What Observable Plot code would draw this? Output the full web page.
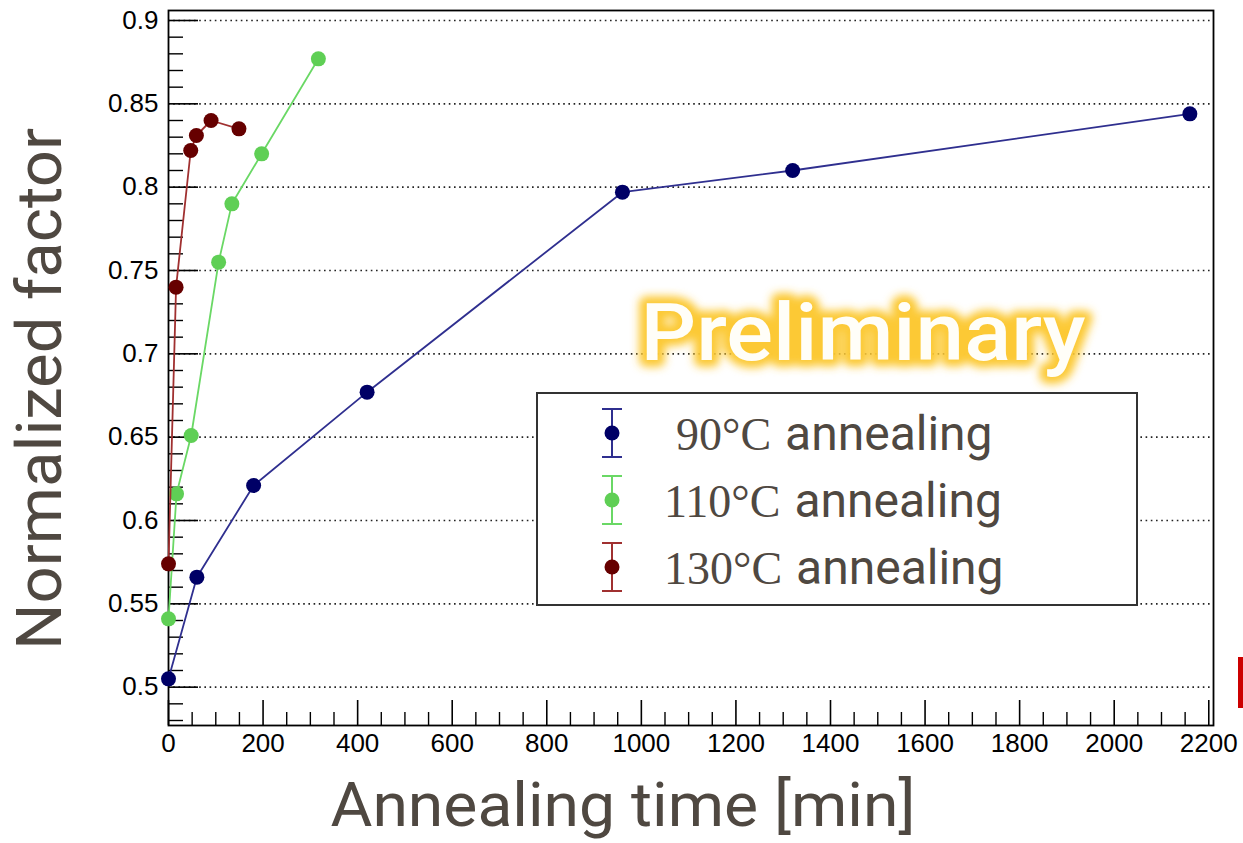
<!DOCTYPE html>
<html>
<head>
<meta charset="utf-8">
<script src="https://cdn.jsdelivr.net/npm/d3@7"></script>
<script src="https://cdn.jsdelivr.net/npm/@observablehq/plot@0.6"></script>
<style>
  body { margin: 0; background: #fff; }
  #chart { position: relative; width: 1243px; height: 843px; overflow: hidden; background: #fff; }
</style>
</head>
<body>
<div id="chart"></div>
<script>
// ---- data ----
const time90 = [0, 60, 180, 420, 960, 1320, 2160];
const factor90 = [0.505, 0.566, 0.621, 0.677, 0.797, 0.810, 0.844];

const time110 = [0, 17, 48, 106, 134, 197, 317];
const factor110 = [0.541, 0.616, 0.651, 0.755, 0.790, 0.820, 0.877];

const time130 = [0, 16, 47, 59, 90, 149];
const factor130 = [0.574, 0.740, 0.822, 0.831, 0.840, 0.835];

const seriesNames = ["90°C", "110°C", "130°C"];
const legendSuffix = "annealing";

const xTicks = [0, 200, 400, 600, 800, 1000, 1200, 1400, 1600, 1800, 2000, 2200];
const xMinorTicks = d3.range(0, 2201, 50).filter(v => v % 200 !== 0);
const yTicks = [0.5, 0.55, 0.6, 0.65, 0.7, 0.75, 0.8, 0.85, 0.9];
const yMinorTicks = d3.range(48, 91).filter(v => v % 5 !== 0).map(v => v / 100);

const xLabel = "Annealing time [min]";
const yLabel = "Normalized factor";
const watermark = "Preliminary";

// ---- styling ----
const markerColors = ["#000066", "#5fcf55", "#660000"];
const lineColors = ["#2f2f8f", "#6ad865", "#a03030"];
const titleColor = "#4f4841";

const table = [
  {name: seriesNames[0], t: time90, f: factor90},
  {name: seriesNames[1], t: time110, f: factor110},
  {name: seriesNames[2], t: time130, f: factor130}
].map((s, k) => ({...s, marker: markerColors[k], line: lineColors[k],
  rows: s.t.map((t, i) => ({t, f: s.f[i]}))}));

const fmtY = d => String(+d.toFixed(2));
const tickFont = "Liberation Sans, Arial, Helvetica, sans-serif";

const marks = [
  Plot.gridY({ticks: yTicks, stroke: "#222", strokeOpacity: 1, strokeWidth: 1.6, strokeDasharray: "1.6,3.6"}),
  // inward ticks
  Plot.axisY({ticks: yMinorTicks, tickSize: -15, tickFormat: () => "", label: null, stroke: "#000", strokeWidth: 1.4}),
  Plot.axisY({ticks: yTicks, tickSize: -30, tickFormat: () => "", label: null, stroke: "#000", strokeWidth: 1.6}),
  Plot.axisY({ticks: yTicks, tickSize: 0, tickPadding: 10, tickFormat: fmtY, label: null,
    fontSize: 26, fontFamily: tickFont, fill: "#000"}),
  Plot.axisX({ticks: xMinorTicks, tickSize: -13, tickFormat: () => "", label: null, stroke: "#000", strokeWidth: 1.4}),
  Plot.axisX({ticks: xTicks, tickSize: -25, tickFormat: () => "", label: null, stroke: "#000", strokeWidth: 1.6}),
  Plot.axisX({ticks: xTicks, tickSize: 0, tickPadding: 8, tickFormat: d => String(d), label: null,
    fontSize: 26, fontFamily: tickFont, fill: "#000"}),
  Plot.frame({stroke: "#000", strokeWidth: 1.8})
];

for (const s of table) {
  marks.push(Plot.line(s.rows, {x: "t", y: "f", stroke: s.line, strokeWidth: 1.8}));
  marks.push(Plot.dot(s.rows, {x: "t", y: "f", r: 7.5, fill: s.marker, stroke: "none"}));
}

// axis titles
marks.push(Plot.text([xLabel], {frameAnchor: "bottom-left", textAnchor: "start", lineAnchor: "middle", dx: 162, dy: 81,
  fontSize: 62, fontFamily: "Roboto", fill: titleColor}));
marks.push(Plot.text([yLabel], {frameAnchor: "left", textAnchor: "middle", lineAnchor: "middle", rotate: -90, dx: -128, dy: 21,
  fontSize: 63, fontFamily: "Roboto", fill: titleColor}));

// watermark (glow + face)
const wmOpts = {frameAnchor: "top-left", textAnchor: "start", lineAnchor: "middle", dx: 472, dy: 324,
  fontSize: 80, fontWeight: 500, fontFamily: "Roboto"};
marks.push(Plot.text([watermark], {...wmOpts, fill: "#fcc934", stroke: "#fcc934", strokeWidth: 14, strokeLinejoin: "round"}));
marks.push(Plot.text([watermark], {...wmOpts, fill: "#fffef8"}));

const chart = Plot.plot({
  width: 1243,
  height: 843,
  marginLeft: 168,
  marginRight: 30,
  marginTop: 10,
  marginBottom: 118,
  style: {background: "#fff", fontFamily: tickFont},
  x: {domain: [0, 2210]},
  y: {domain: [0.477, 0.906]},
  marks
});

document.getElementById("chart").appendChild(chart);

// ---- post-processing: text widths, glow, legend ----
const svg = d3.select(chart);
const defs = svg.insert("defs", ":first-child");
defs.append("filter").attr("id", "glow").attr("x", "-20%").attr("y", "-40%").attr("width", "140%").attr("height", "180%")
  .append("feGaussianBlur").attr("stdDeviation", 4);

const fitText = (content, len) => svg.selectAll("text").filter(function() { return this.textContent === content; })
  .attr("textLength", len).attr("lengthAdjust", "spacingAndGlyphs");
fitText(xLabel, 585);
fitText(yLabel, 522);
fitText(watermark, 445);
svg.selectAll("text").filter(function() { return this.textContent === watermark; })
  .filter((d, i) => i === 0).attr("filter", "url(#glow)");

// legend box
const lg = svg.append("g").attr("text-anchor", "start");
lg.append("rect").attr("x", 537).attr("y", 393).attr("width", 600).attr("height", 212)
  .attr("fill", "#fff").attr("stroke", "#333").attr("stroke-width", 2);
const rowY = [433, 500, 567];
const textX = [676, 664, 664];
table.forEach((s, k) => {
  const y = rowY[k];
  const g = lg.append("g");
  g.append("line").attr("x1", 612).attr("x2", 612).attr("y1", y - 24).attr("y2", y + 24)
    .attr("stroke", s.line).attr("stroke-width", 2);
  [y - 24, y + 24].forEach(cy => g.append("line").attr("x1", 602).attr("x2", 622).attr("y1", cy).attr("y2", cy)
    .attr("stroke", s.line).attr("stroke-width", 2));
  g.append("circle").attr("cx", 612).attr("cy", y).attr("r", 7.5).attr("fill", s.marker);
  const t = g.append("text").attr("x", textX[k]).attr("y", y + 17).attr("fill", titleColor)
    .attr("text-anchor", "start");
  t.append("tspan").attr("font-family", "Liberation Serif, serif").attr("font-size", 46).text(s.name);
  t.append("tspan").attr("font-family", "Roboto").attr("font-size", 48).attr("dx", 14).text(legendSuffix);
});

// red mark at right edge
svg.append("rect").attr("x", 1238).attr("y", 657).attr("width", 6).attr("height", 51).attr("fill", "#cc0000");
</script>
</body>
</html>
